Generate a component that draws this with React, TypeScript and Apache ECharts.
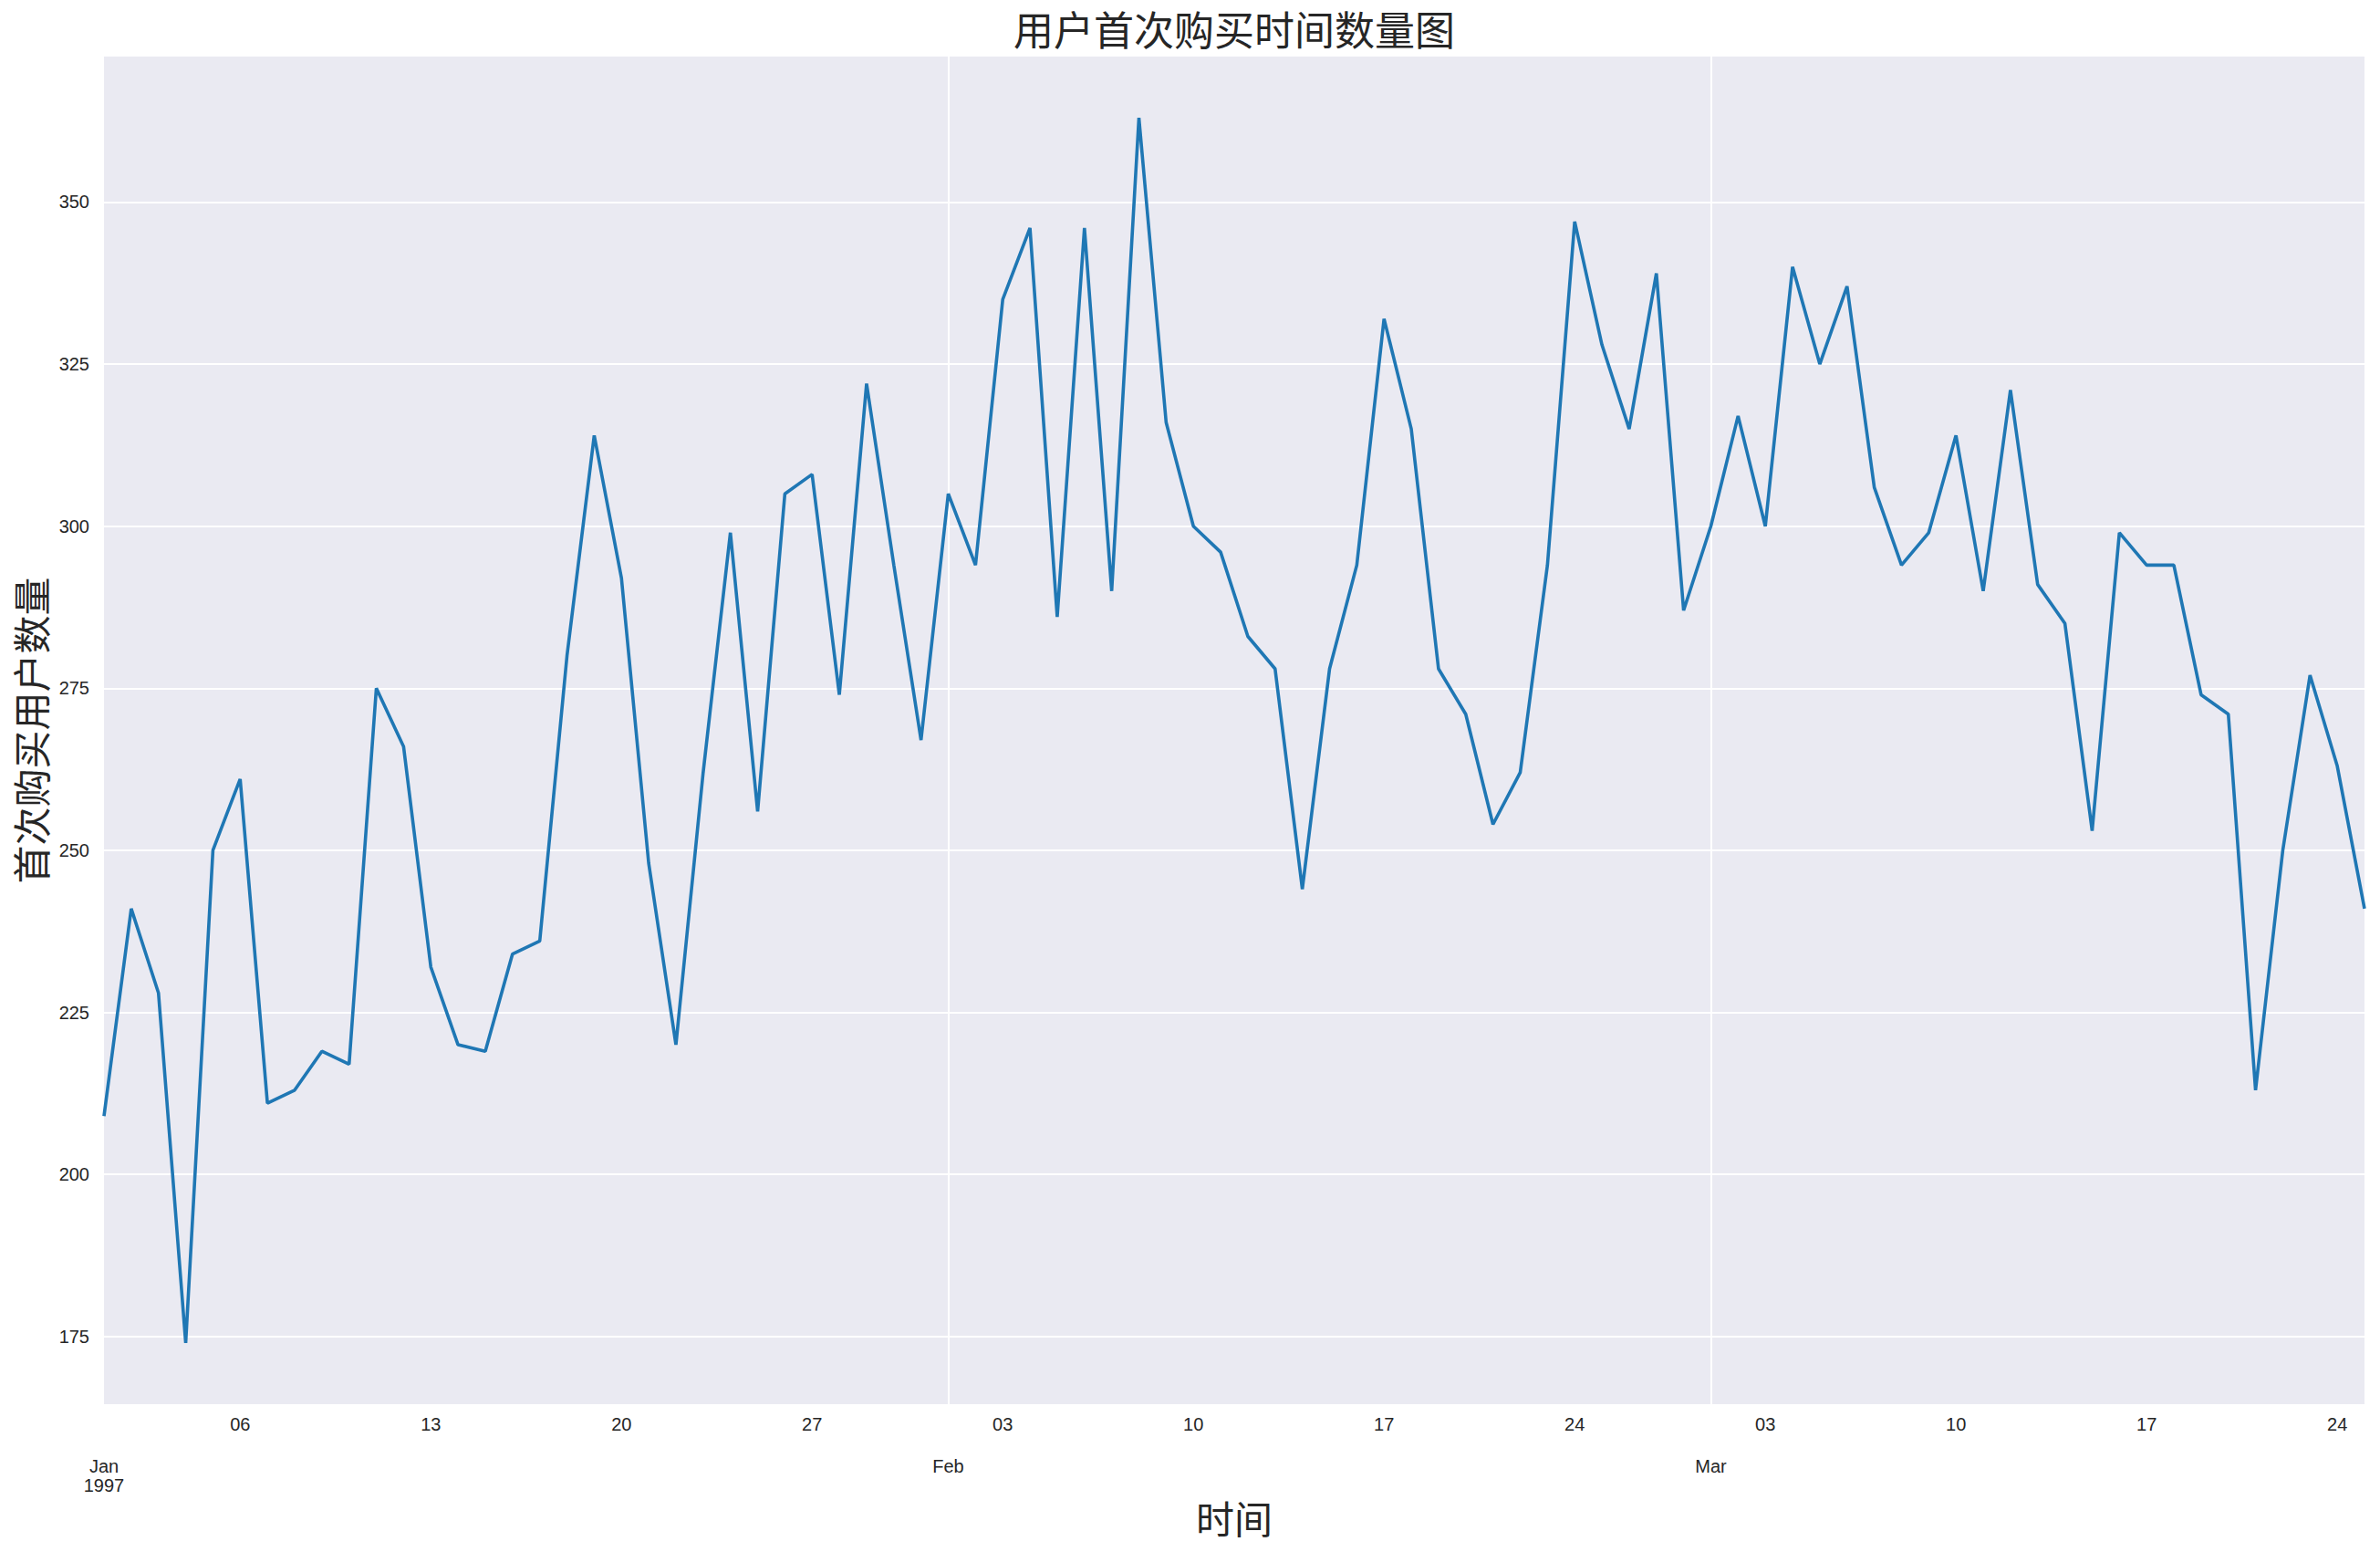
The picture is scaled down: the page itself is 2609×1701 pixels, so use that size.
import React, { useEffect, useRef } from "react";
import * as echarts from "echarts";

// ---- data ----
const YEAR = 1997;
const MONTH_LENGTHS = [31, 28, 25]; // Jan, Feb, Mar (through the 25th)
const MONTH_NAMES = ["Jan", "Feb", "Mar"];

const dates: string[] = [];
MONTH_LENGTHS.forEach((len, m) => {
  for (let d = 1; d <= len; d++) {
    dates.push(`${YEAR}-${String(m + 1).padStart(2, "0")}-${String(d).padStart(2, "0")}`);
  }
});

const firstPurchaseCounts = [
  209, 241, 228, 174, 250, 261, 211, 213, 219, 217,
  275, 266, 232, 220, 219, 234, 236, 280, 314, 292,
  248, 220, 262, 299, 256, 305, 308, 274, 322, 294,
  267, 305, 294, 335, 346, 286, 346, 290, 363, 316,
  300, 296, 283, 278, 244, 278, 294, 332, 315, 278,
  271, 254, 262, 294, 347, 328, 315, 339, 287, 300,
  317, 300, 340, 325, 337, 306, 294, 299, 314, 290,
  321, 291, 285, 253, 299, 294, 294, 274, 271, 213,
  250, 277, 263, 241,
];

const yTicks = [175, 200, 225, 250, 275, 300, 325, 350];
const Y_MIN = 164.55;
const Y_MAX = 372.45;

const TITLE = "用户首次购买时间数量图";
const X_NAME = "时间";
const Y_NAME = "首次购买用户数量";

const isMonday = (s: string) => {
  const [y, m, d] = s.split("-").map(Number);
  return new Date(y, m - 1, d).getDay() === 1;
};
const isMonthStart = (s: string) => s.slice(8) === "01";

const TEXT = "#262626";
const TICK_FONT = "'Liberation Sans', Arial, sans-serif";
const CJK_FONT = "'Noto Sans CJK SC', sans-serif";

const GRID = { left: 114, right: 17, top: 62, bottom: 162 };
const W = 2609;

export default function App() {
  const ref = useRef<HTMLDivElement>(null);

  useEffect(() => {
    if (!ref.current) return;
    const chart = echarts.init(ref.current, undefined, { renderer: "svg" });
    const plotCenterX = GRID.left + (W - GRID.left - GRID.right) / 2;
    chart.setOption({
      animation: false,
      backgroundColor: "#ffffff",
      graphic: [
        {
          type: "text",
          x: plotCenterX,
          y: 31,
          style: {
            text: TITLE,
            align: "center",
            verticalAlign: "middle",
            fontFamily: CJK_FONT,
            fontSize: 44,
            fill: TEXT,
          },
        },
      ],
      grid: {
        ...GRID,
        show: true,
        backgroundColor: "#EAEAF2",
        borderWidth: 0,
        containLabel: false,
        outerBoundsMode: "none",
      },
      xAxis: [
        {
          type: "category",
          position: "bottom",
          data: dates,
          boundaryGap: false,
          axisLine: { show: false },
          axisTick: { show: false },
          splitLine: { show: false },
          axisLabel: {
            interval: (_i: number, v: string) => isMonday(v),
            formatter: (v: string) => v.slice(8),
            margin: 12,
            fontSize: 20,
            fontFamily: TICK_FONT,
            color: TEXT,
          },
          name: X_NAME,
          nameLocation: "middle",
          nameGap: 102,
          nameTextStyle: { fontFamily: CJK_FONT, fontSize: 42, color: TEXT },
        },
        {
          type: "category",
          position: "bottom",
          data: dates,
          boundaryGap: false,
          axisLine: { show: false },
          axisTick: { show: false },
          splitLine: {
            show: true,
            interval: (i: number) => i > 0 && isMonthStart(dates[i]),
            lineStyle: { color: "#ffffff", width: 2 },
          },
          axisLabel: {
            interval: (_i: number, v: string) => isMonthStart(v),
            formatter: (v: string) => {
              const m = Number(v.slice(5, 7)) - 1;
              return m === 0 ? `${MONTH_NAMES[m]}\n${YEAR}` : MONTH_NAMES[m];
            },
            margin: 57,
            lineHeight: 21,
            fontSize: 20,
            fontFamily: TICK_FONT,
            color: TEXT,
          },
        },
      ],
      yAxis: {
        type: "value",
        min: Y_MIN,
        max: Y_MAX,
        axisLine: { show: false },
        axisTick: { show: false, customValues: yTicks },
        axisLabel: {
          customValues: yTicks,
          formatter: (v: number) => String(Math.round(v)),
          margin: 16,
          fontSize: 20,
          fontFamily: TICK_FONT,
          color: TEXT,
        },
        splitLine: { show: true, lineStyle: { color: "#ffffff", width: 2 } },
        name: Y_NAME,
        nameLocation: "middle",
        nameGap: 58,
        nameTextStyle: { fontFamily: CJK_FONT, fontSize: 42, color: TEXT },
      },
      series: [
        {
          type: "line",
          xAxisIndex: 0,
          data: firstPurchaseCounts,
          showSymbol: false,
          smooth: false,
          lineStyle: { color: "#1f77b4", width: 3.6 },
          itemStyle: { color: "#1f77b4" },
        },
      ],
    });
    return () => chart.dispose();
  }, []);

  return (
    <div
      ref={ref}
      style={{ position: "fixed", left: 0, top: 0, width: W, height: 1701, background: "#fff" }}
    />
  );
}
